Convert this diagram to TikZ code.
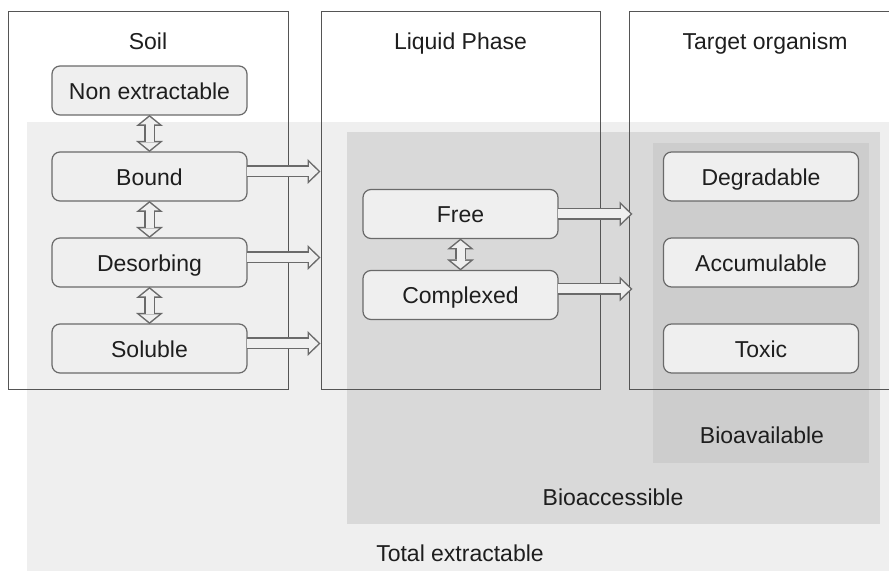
\documentclass[tikz,border=0pt]{standalone}
\usepackage{fontspec}
\setmainfont{Liberation Sans}
\usetikzlibrary{positioning,arrows.meta}

\definecolor{extractgray}{HTML}{EFEFEF}
\definecolor{accessgray}{HTML}{D9D9D9}
\definecolor{availgray}{HTML}{CDCDCD}
\definecolor{boxfill}{HTML}{EFEFEF}
\definecolor{boxline}{HTML}{6A6A6A}
\definecolor{frameline}{HTML}{555555}
\definecolor{textgray}{HTML}{1E1E1E}

\tikzset{
  state/.style = {draw=boxline, fill=boxfill, rounded corners=4pt,
    line width=0.6pt, minimum width=97.5pt, minimum height=24.5pt,
    inner sep=0pt, outer sep=0pt, text height=9pt, text depth=0pt},
  frame/.style = {draw=frameline, line width=0.5pt, inner sep=0pt},
  heading/.style = {anchor=base},
  % hollow block arrows: dark outline first, light core on top
  blockarrow/.style = {draw=boxline, line width=6pt,
    -{Triangle[length=6.5pt,width=12.5pt,line width=0pt]},
    postaction={draw=boxfill, line width=4.5pt, shorten >=1.08pt,
      -{Triangle[length=4.67pt,width=9pt,line width=0pt]}}},
  blockdouble/.style = {draw=boxline, line width=5.5pt,
    {Triangle[length=5.5pt,width=13.5pt,line width=0pt]}-{Triangle[length=5.5pt,width=13.5pt,line width=0pt]},
    postaction={draw=boxfill, line width=4pt, shorten >=0.97pt, shorten <=0.97pt,
      {Triangle[length=3.78pt,width=9.3pt,line width=0pt]}-{Triangle[length=3.78pt,width=9.3pt,line width=0pt]}}}
}

\begin{document}
\begin{tikzpicture}[x=0.5pt, y=-0.5pt,
  every node/.style = {font=\fontsize{11.5}{14}\selectfont, text=textgray}]
  \useasboundingbox (0,0) rectangle (889,571);

  % nested fractions
  \fill[extractgray] (27,122) rectangle (891,573);
  \fill[accessgray] (347,132) rectangle (880,524);
  \fill[availgray] (653,143) rectangle (869,463);
  \node[heading] (bioavail) at (762,444) {Bioavailable};
  \node[heading] (bioaccess) at (613,506) {Bioaccessible};
  \node[heading] (totalext) at (460,561) {Total extractable};

  % compartments
  \node[frame, minimum width=140pt, minimum height=189pt] (soil) at (148,201) {};
  \node[frame, minimum width=139.5pt, minimum height=189pt] (liquid) at (460.5,201) {};
  \node[frame, minimum width=131pt, minimum height=189pt] (target) at (760,201) {};
  \node[heading] (soiltitle) at ([yshift=-19pt]soil.north) {Soil};
  \node[heading] (liquidtitle) at ([yshift=-19pt]liquid.north) {Liquid Phase};
  \node[heading] (targettitle) at ([yshift=-19pt,xshift=2.5pt]target.north) {Target organism};

  % soil
  \node[state] (nonext) at (149.5,90.5) {Non extractable};
  \node[state, below=18.5pt of nonext] (bound) {Bound};
  \node[state, below=18.5pt of bound] (desorb) {Desorbing};
  \node[state, below=18.5pt of desorb] (soluble) {Soluble};

  % liquid phase
  \node[state] (free) at (460.5,214) {Free};
  \node[state, below=16pt of free] (complex) {Complexed};

  % target organism
  \node[state] (degrad) at (761,176.5) {Degradable};
  \node[state, below=18.5pt of degrad] (accum) {Accumulable};
  \node[state, below=18.5pt of accum] (toxic) {Toxic};

  % exchanges
  \draw[blockdouble] (nonext) -- (bound);
  \draw[blockdouble] (bound) -- (desorb);
  \draw[blockdouble] (desorb) -- (soluble);
  \draw[blockdouble] (free) -- (complex);

  \draw[blockarrow] ([yshift=2.5pt]bound.east) -- ([yshift=2.5pt]liquid.west |- bound.east);
  \draw[blockarrow] ([yshift=2.5pt]desorb.east) -- ([yshift=2.5pt]liquid.west |- desorb.east);
  \draw[blockarrow] ([yshift=2.5pt]soluble.east) -- ([yshift=2.5pt]liquid.west |- soluble.east);
  \draw[blockarrow] (free.east) -- ([xshift=2pt]target.west |- free.east);
  \draw[blockarrow] ([yshift=3pt]complex.east) -- ([xshift=2pt,yshift=3pt]target.west |- complex.east);
\end{tikzpicture}
\end{document}
